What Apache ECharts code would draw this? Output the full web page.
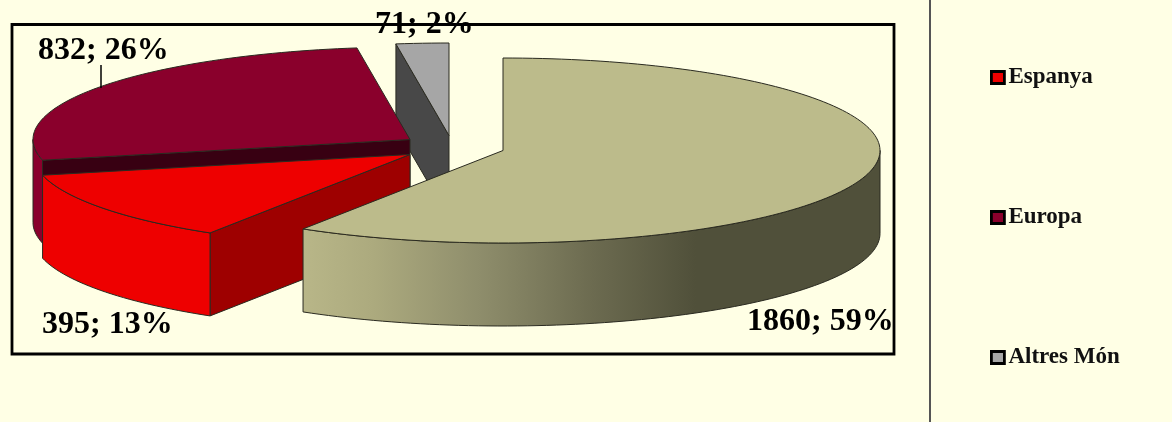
<!DOCTYPE html>
<html><head><meta charset="utf-8">
<style>html,body{margin:0;padding:0;background:#FFFFE5}#c{width:1172px;height:422px}</style>
<script src="https://cdn.jsdelivr.net/npm/echarts@6/dist/echarts.min.js"></script>
</head><body><div id="c"></div>
<script>
// Data
const categories = ['', 'Espanya', 'Europa', 'Altres Món'];
const values = [1860, 395, 832, 71];
const legendNames = ['Espanya', 'Europa', 'Altres Món'];

// Layout and style of the 3D pie
const RX = 377, RY = 92.5, DEPTH = 83;
const centres = [[503, 150.5], [410, 154.5], [410, 139.5], [449, 135.5]];
const labelAnchors = [[747, 322], [42, 325], [38, 51], [375, 25]];
const topColors = ['#BCBB8B', '#EE0000', '#8A002C', '#A6A6A6'];
const faceColors = ['#50503A', '#9E0000', '#380012', '#484848'];
const rimColors = [null, '#EE0000', '#8A002C', '#A6A6A6'];
const drawOrder = [3, 2, 1, 0];
const EDGE = '#2a2a20';

const total = values.reduce((a, b) => a + b, 0);
const starts = [];
values.reduce((acc, v, i) => { starts[i] = acc; return acc + v; }, 0);
const toDeg = v => v / total * 360;

function pt(c, t, dy) {
  const r = t * Math.PI / 180;
  return [c[0] + RX * Math.sin(r), c[1] - RY * Math.cos(r) + (dy || 0)];
}
function arc(c, a, b, dy) {
  const out = [], n = Math.max(2, Math.ceil(Math.abs(b - a) / 1.5));
  for (let i = 0; i <= n; i++) out.push(pt(c, a + (b - a) * i / n, dy));
  return out;
}
const rimGradient = {
  type: 'linear', x: 304, y: 0, x2: 880, y2: 0, global: true,
  colorStops: [
    { offset: 0, color: '#B8B688' }, { offset: 0.12, color: '#ACAA7E' },
    { offset: 0.3, color: '#8F8E6C' }, { offset: 0.5, color: '#6C6B50' },
    { offset: 0.68, color: '#50503A' }, { offset: 1, color: '#50503A' }
  ]
};

function renderSlice(i) {
  return function () {
    const c = centres[i];
    const a = toDeg(starts[i]), b = toDeg(starts[i] + values[i]);
    const kids = [];
    const poly = (points, fill) => kids.push({
      type: 'polygon', shape: { points },
      style: { fill, stroke: EDGE, lineWidth: 1, lineJoin: 'round' }
    });
    // visible radial cut face at the start of the slice
    if (a > 180 && a < 360) {
      const p = pt(c, a);
      poly([c, p, [p[0], p[1] + DEPTH], [c[0], c[1] + DEPTH]], faceColors[i]);
    }
    // visible outer rim (front half)
    const ra = Math.max(a, 90), rb = Math.min(b, 270);
    if (rb > ra) {
      poly(arc(c, ra, rb, 0).concat(arc(c, rb, ra, DEPTH)), rimColors[i] || rimGradient);
    }
    poly([c].concat(arc(c, a, b, 0)), topColors[i]);
    return { type: 'group', children: kids };
  };
}

function renderLabels() {
  const kids = [{
    type: 'line', shape: { x1: 101, y1: 65, x2: 101, y2: 88 },
    style: { stroke: '#000', lineWidth: 1.5 }
  }];
  values.forEach((v, i) => {
    kids.push({
      type: 'text',
      style: {
        text: v + '; ' + Math.round(v / total * 100) + '%',
        x: labelAnchors[i][0], y: labelAnchors[i][1],
        fill: '#000', font: 'bold 32px "Liberation Serif"',
        textAlign: 'left', textVerticalAlign: 'middle'
      }
    });
  });
  return { type: 'group', children: kids };
}

const series = drawOrder.map(i => ({
  type: 'custom', name: categories[i], coordinateSystem: 'none',
  silent: true, animation: false,
  itemStyle: { color: topColors[i] },
  data: [values[i]], renderItem: renderSlice(i)
}));
series.push({
  type: 'custom', name: 'labels', coordinateSystem: 'none', silent: true, animation: false,
  z: 5, data: [0], renderItem: renderLabels
});

const chart = echarts.init(document.getElementById('c'), null, { renderer: 'canvas' });
chart.setOption({
  animation: false,
  backgroundColor: '#FFFFE5',
  legend: {
    data: legendNames, orient: 'vertical', left: 990, top: 66,
    padding: 0, itemWidth: 13, itemHeight: 12, itemGap: 117,
    icon: 'rect',
    itemStyle: { borderColor: '#000', borderWidth: 2.8 },
    textStyle: { fontFamily: 'Liberation Serif', fontWeight: 'bold', fontSize: 23, color: '#111', padding: [0, 0, 0, -1] },
    selectedMode: false
  },
  graphic: [
    { type: 'rect', z: 0, silent: true, shape: { x: 12, y: 24.5, width: 882, height: 329.5 },
      style: { fill: 'transparent', stroke: '#000', lineWidth: 2.8 } },
    { type: 'line', z: 0, silent: true, shape: { x1: 930, y1: 0, x2: 930, y2: 422 },
      style: { stroke: '#555', lineWidth: 2 } }
  ],
  series
});
</script></body></html>
